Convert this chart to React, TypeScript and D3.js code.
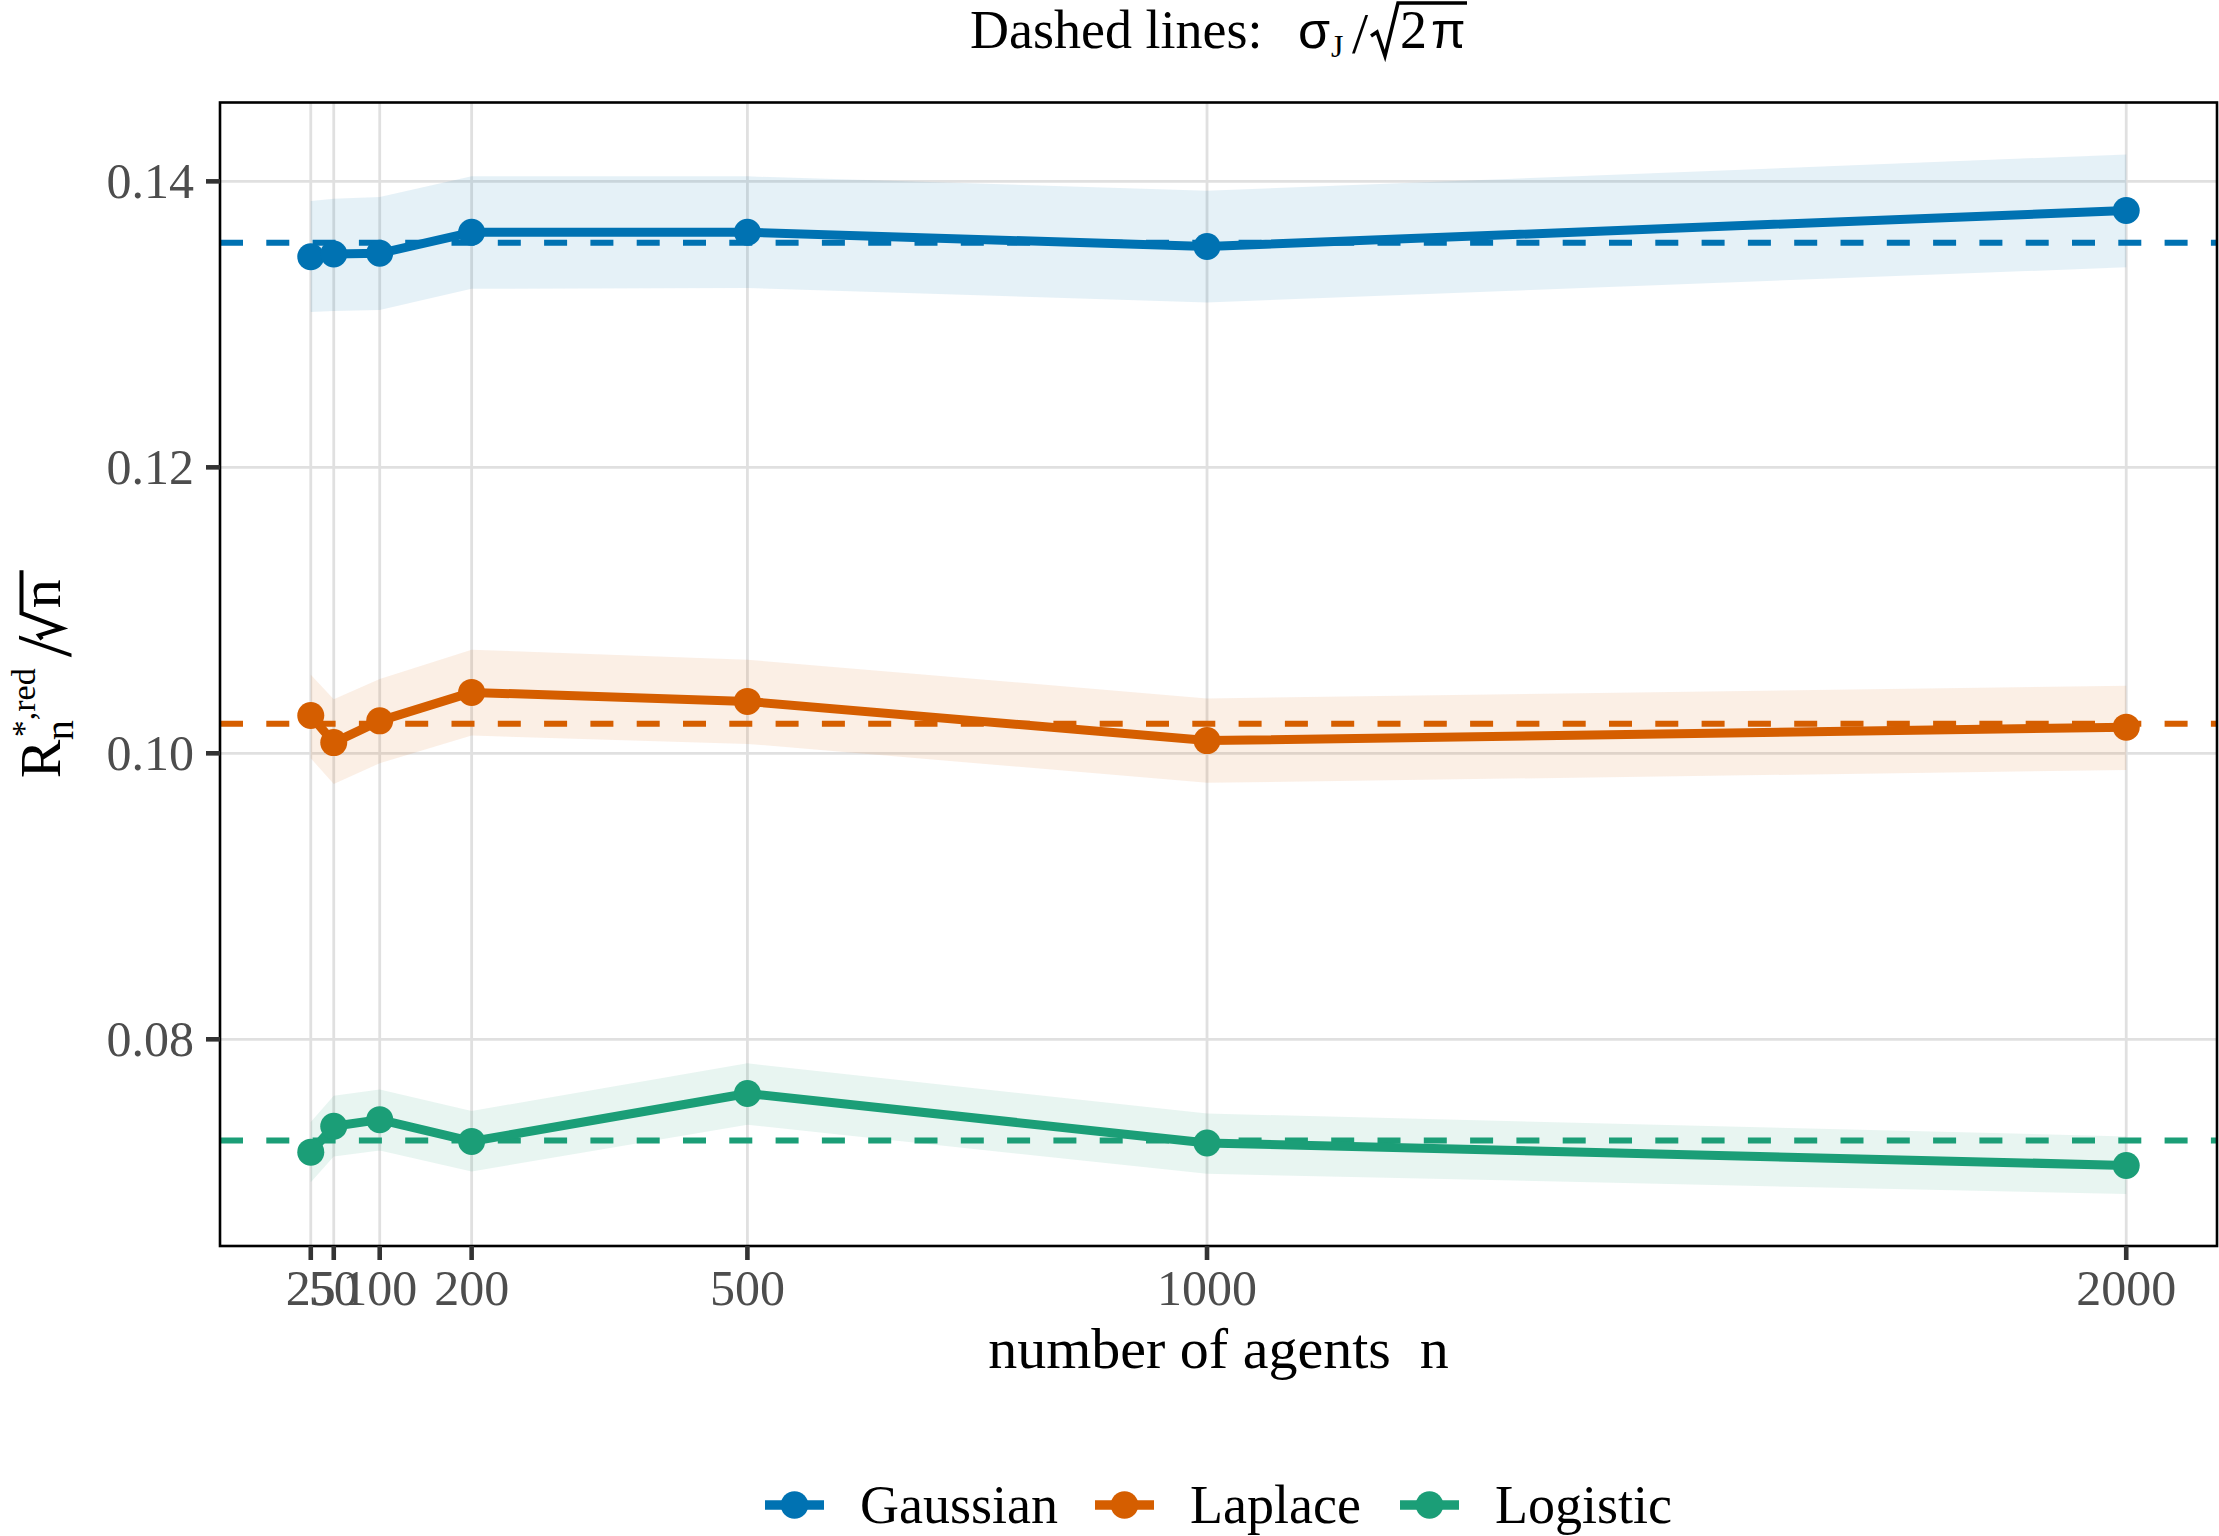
import React from 'react';
import * as d3 from 'd3';

// number of agents on the x axis
const N_AGENTS = [25, 50, 100, 200, 500, 1000, 2000];
const Y_TICKS = [0.08, 0.1, 0.12, 0.14];

const GAUSSIAN_MEAN = [0.13473, 0.13492, 0.13497, 0.13644, 0.13644, 0.13544, 0.13796];
const GAUSSIAN_LOW = [0.13087, 0.13094, 0.13101, 0.13249, 0.13254, 0.13153, 0.13399];
const GAUSSIAN_HIGH = [0.13862, 0.13878, 0.1389, 0.14035, 0.14035, 0.13934, 0.14188];
const GAUSSIAN_REF = 0.13571;

const LAPLACE_MEAN = [0.10264, 0.10075, 0.10227, 0.10426, 0.10363, 0.10089, 0.10183];
const LAPLACE_LOW = [0.09965, 0.09785, 0.0993, 0.10124, 0.10066, 0.09794, 0.09883];
const LAPLACE_HIGH = [0.1055, 0.10379, 0.10519, 0.10725, 0.10655, 0.10384, 0.10473];
const LAPLACE_REF = 0.10206;

const LOGISTIC_MEAN = [0.07211, 0.07392, 0.07438, 0.07286, 0.07621, 0.07275, 0.07118];
const LOGISTIC_LOW = [0.07001, 0.07181, 0.07223, 0.07076, 0.07403, 0.07059, 0.06918];
const LOGISTIC_HIGH = [0.07422, 0.07605, 0.07649, 0.07499, 0.07832, 0.07481, 0.07321];
const LOGISTIC_REF = 0.07293;

const SERIES_NAMES = ['Gaussian', 'Laplace', 'Logistic'];
const SERIES_COLORS = ['#0072B2', '#D55E00', '#1B9E77'];

const series = [
  { name: SERIES_NAMES[0], color: SERIES_COLORS[0], mean: GAUSSIAN_MEAN, low: GAUSSIAN_LOW, high: GAUSSIAN_HIGH, ref: GAUSSIAN_REF },
  { name: SERIES_NAMES[1], color: SERIES_COLORS[1], mean: LAPLACE_MEAN, low: LAPLACE_LOW, high: LAPLACE_HIGH, ref: LAPLACE_REF },
  { name: SERIES_NAMES[2], color: SERIES_COLORS[2], mean: LOGISTIC_MEAN, low: LOGISTIC_LOW, high: LOGISTIC_HIGH, ref: LOGISTIC_REF },
];

const W = 2219;
const H = 1536;
const panel = { left: 220, right: 2217, top: 102.5, bottom: 1246 };
const SERIF = '"Liberation Serif", "Times New Roman", serif';
const SANS = '"Liberation Sans", Arial, sans-serif';

// ggplot-style 5% expansion on both axes
const expand = (lo: number, hi: number) => {
  const pad = (hi - lo) * 0.05;
  return [lo - pad, hi + pad];
};

const xDomain = expand(d3.min(N_AGENTS)!, d3.max(N_AGENTS)!);
const yLo = d3.min(series.flatMap((s) => s.low))!;
const yHi = d3.max(series.flatMap((s) => s.high))!;
const yDomain = expand(yLo, yHi);

const x = d3.scaleLinear().domain(xDomain).range([panel.left, panel.right]);
const y = d3.scaleLinear().domain(yDomain).range([panel.bottom, panel.top]);

type Row = { n: number; mean: number; low: number; high: number };

const lineGen = d3.line<Row>().x((d) => x(d.n)).y((d) => y(d.mean));
const areaGen = d3
  .area<Row>()
  .x((d) => x(d.n))
  .y0((d) => y(d.low))
  .y1((d) => y(d.high));

// legend key positions along the bottom
const LEGEND_X = [765, 1095, 1400];
const LEGEND_Y = 1505;
const KEY_W = 59;

export default function App() {
  const rows = series.map((s) =>
    N_AGENTS.map((n, i) => ({ n, mean: s.mean[i], low: s.low[i], high: s.high[i] }))
  );
  const cx = (panel.left + panel.right) / 2;
  const cy = (panel.top + panel.bottom) / 2;

  return (
    <svg
      width={W}
      height={H}
      style={{ position: 'absolute', left: 0, top: 0, background: '#fff' }}
      fontFamily={SERIF}
    >
      <rect width={W} height={H} fill="#fff" />

      {/* grid */}
      {Y_TICKS.map((t) => (
        <line key={'gy' + t} x1={panel.left} x2={panel.right} y1={y(t)} y2={y(t)} stroke="#E0E0E0" strokeWidth={2.8} />
      ))}
      {N_AGENTS.map((n) => (
        <line key={'gx' + n} x1={x(n)} x2={x(n)} y1={panel.top} y2={panel.bottom} stroke="#E0E0E0" strokeWidth={2.8} />
      ))}

      {/* confidence bands */}
      {series.map((s, i) => (
        <path key={'band' + s.name} d={areaGen(rows[i])!} fill={s.color} fillOpacity={0.1} />
      ))}

      {/* reference levels sigma_J / sqrt(2 pi) */}
      {series.map((s) => (
        <line
          key={'ref' + s.name}
          x1={panel.left}
          x2={panel.right}
          y1={y(s.ref)}
          y2={y(s.ref)}
          stroke={s.color}
          strokeWidth={6}
          strokeDasharray="23 23.3"
        />
      ))}

      {/* means */}
      {series.map((s, i) => (
        <g key={'line' + s.name}>
          <path d={lineGen(rows[i])!} fill="none" stroke={s.color} strokeWidth={9} strokeLinejoin="round" />
          {rows[i].map((d) => (
            <circle key={d.n} cx={x(d.n)} cy={y(d.mean)} r={13.5} fill={s.color} />
          ))}
        </g>
      ))}

      {/* panel border */}
      <rect
        x={panel.left}
        y={panel.top}
        width={panel.right - panel.left}
        height={panel.bottom - panel.top}
        fill="none"
        stroke="#000"
        strokeWidth={2.6}
      />

      {/* y axis */}
      {Y_TICKS.map((t) => (
        <g key={'yt' + t}>
          <line x1={panel.left - 14} x2={panel.left} y1={y(t)} y2={y(t)} stroke="#333" strokeWidth={4.6} />
          <text x={panel.left - 26} y={y(t)} dy="0.33em" textAnchor="end" fontSize={50} fill="#4D4D4D">
            {d3.format('.2f')(t)}
          </text>
        </g>
      ))}

      {/* x axis */}
      {N_AGENTS.map((n) => (
        <g key={'xt' + n}>
          <line x1={x(n)} x2={x(n)} y1={panel.bottom} y2={panel.bottom + 14} stroke="#333" strokeWidth={4.6} />
          <text x={x(n)} y={1305} textAnchor="middle" fontSize={50} fill="#4D4D4D">
            {n}
          </text>
        </g>
      ))}

      <text x={cx} y={1368} textAnchor="middle" fontSize={58} fill="#000" style={{ whiteSpace: 'pre' }}>
        {'number of agents  n'}
      </text>

      {/* y axis title: R_n^{*,red} / sqrt(n) */}
      <g transform={`translate(60, ${cy}) rotate(-90)`} fill="#000">
        <text x={-104} y={0} fontSize={58}>R</text>
        <text x={-66} y={13} fontSize={40}>n</text>
        <text x={-63} y={-25} fontSize={34}>*,red</text>
        <text x={17} y={10} fontSize={78}>/</text>
        <path d="M35,-18 L39,-21 L46,2 L61,-38.5 L104,-38.5" fill="none" stroke="#000" strokeWidth={4} strokeLinejoin="miter" />
        <text x={66} y={0} fontSize={58}>n</text>
      </g>

      {/* title */}
      <g fill="#000">
        <text x={970} y={48} fontSize={54}>Dashed lines:</text>
        <text x={1298} y={48} fontSize={52} fontFamily={SANS}>σ</text>
        <text x={1331} y={57} fontSize={32}>J</text>
        <text x={1352} y={53} fontSize={58}>/</text>
        <path d="M1371,36 L1377,32 L1385,56 L1398,3 L1467,3" fill="none" stroke="#000" strokeWidth={3.5} />
        <text x={1400} y={48} fontSize={54}>2</text>
        <text x={1431} y={48} fontSize={50} fontFamily={SANS}>π</text>
      </g>

      {/* legend */}
      {series.map((s, i) => (
        <g key={'leg' + s.name} transform={`translate(${LEGEND_X[i]}, ${LEGEND_Y})`}>
          <line x1={0} x2={KEY_W} y1={0} y2={0} stroke={s.color} strokeWidth={9.5} />
          <circle cx={KEY_W / 2} cy={0} r={13.8} fill={s.color} />
          <text x={KEY_W + 36} y={18} fontSize={54} fill="#000">
            {s.name}
          </text>
        </g>
      ))}
    </svg>
  );
}
